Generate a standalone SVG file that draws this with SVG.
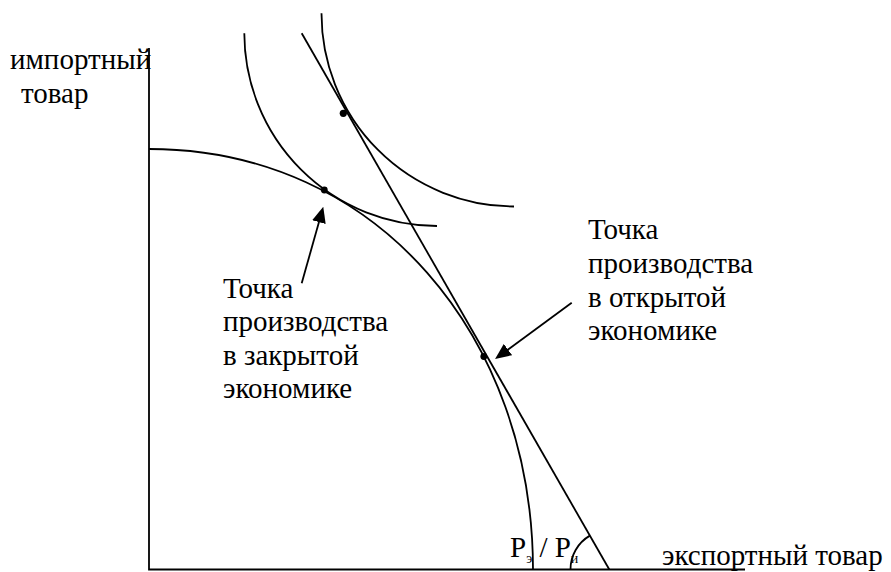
<svg xmlns="http://www.w3.org/2000/svg" width="891" height="572" viewBox="0 0 891 572">
<defs>
<style>
.ln{fill:none;stroke:#000;stroke-width:1.8}
.t{font-family:'Liberation Serif','Liberation Sans',sans-serif;font-size:29px;fill:#000}
.sub{font-size:14px}
.dot{fill:#000}
</style>
<marker id="ah" markerUnits="userSpaceOnUse" markerWidth="16" markerHeight="14" viewBox="0 0 16 14" refX="8" refY="7" orient="auto">
<path d="M0,0 L16,7 L0,14 z" fill="#000"/>
</marker>
</defs>
<rect width="891" height="572" fill="#fff"/>
<g id="axes">
<path class="ln" d="M149,48 V569.5 H745"/>
<text class="t" x="10" y="69">импортный</text>
<text class="t" x="21" y="103">товар</text>
<text class="t" x="662" y="565">экспортный товар</text>
</g>
<g id="ppf">
<path class="ln" d="M149,149 C379,149 533,339 533,570"/>
</g>
<g id="ic-low">
<path class="ln" d="M244.3,33.3 A193,193 0 0 0 437,226"/>
</g>
<g id="ic-high">
<path class="ln" d="M321.5,13.3 A193,193 0 0 0 514,206.5"/>
</g>
<g id="price-line">
<path class="ln" d="M301.7,33.3 L609.3,569.5"/>
<path class="ln" d="M570.5,569.5 A39,39 0 0 1 589.9,535.6"/>
<text class="t" x="510" y="557">P<tspan class="sub" dy="6">э</tspan><tspan dy="-6"> / P</tspan><tspan class="sub" dy="6">и</tspan></text>
</g>
<g id="points">
<circle class="dot" cx="343.3" cy="113.3" r="3.6"/>
<circle class="dot" cx="324.3" cy="190" r="3.4"/>
<circle class="dot" cx="483.8" cy="356.5" r="3.4"/>
</g>
<g id="label-closed">
<text class="t" x="223" y="298">Точка</text>
<text class="t" x="223" y="331">производства</text>
<text class="t" x="223" y="365">в закрытой</text>
<text class="t" x="223" y="398">экономике</text>
</g>
<g id="label-open">
<text class="t" x="588" y="239">Точка</text>
<text class="t" x="588" y="273">производства</text>
<text class="t" x="588" y="306.5">в открытой</text>
<text class="t" x="588" y="340">экономике</text>
</g>
<g id="connectors">
<path class="ln" d="M301.7,283.3 L321.1,214.4" marker-end="url(#ah)"/>
<path class="ln" d="M571.7,302.7 L501.5,354.3" marker-end="url(#ah)"/>
</g>
</svg>
